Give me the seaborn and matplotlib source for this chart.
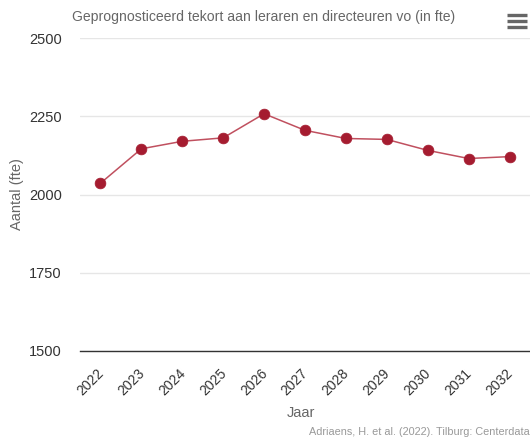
import numpy as np
import pandas as pd
import seaborn as sns
import matplotlib.pyplot as plt
import matplotlib.transforms as mtransforms
from matplotlib.lines import Line2D

# data
jaren = ['2022', '2023', '2024', '2025', '2026', '2027', '2028', '2029', '2030', '2031', '2032']
tekort = [2036, 2146, 2170, 2181, 2258, 2205, 2179, 2176, 2141, 2115, 2121]

df = pd.DataFrame({'Jaar': jaren, 'Aantal': tekort})

sns.set_style('white')
plt.rcParams['font.family'] = ['Liberation Sans', 'DejaVu Sans']

fig = plt.figure(figsize=(5.3, 4.38), dpi=100)
ax = fig.add_axes([80 / 530, 1 - 351 / 438, 450 / 530, 313 / 438])

rood = '#a51c30'
sns.lineplot(data=df, x='Jaar', y='Aantal', ax=ax, color='#c0505f', linewidth=1.1, sort=False)
sns.scatterplot(data=df, x='Jaar', y='Aantal', ax=ax, color=rood, s=60, edgecolor=rood,
                linewidth=0.5, zorder=3)

ax.set_xlim(-0.5, len(jaren) - 0.5)
ax.set_ylim(1500, 2500)
ax.set_yticks([1500, 1750, 2000, 2250, 2500])
ax.yaxis.grid(True, color='#e6e6e6', linewidth=1)
ax.set_axisbelow(True)
for s in ['top', 'right', 'left']:
    ax.spines[s].set_visible(False)
ax.spines['bottom'].set_color('#333333')
ax.spines['bottom'].set_linewidth(1)

ax.tick_params(axis='y', length=0, pad=13, labelsize=10.5, labelcolor='#333333')
ax.tick_params(axis='x', length=0, pad=11, labelsize=10, labelcolor='#333333')
shift = mtransforms.ScaledTranslation(-4 / 100, 0, fig.dpi_scale_trans)
for lab in ax.get_xticklabels():
    lab.set_rotation(45)
    lab.set_ha('right')
    lab.set_rotation_mode('anchor')
    lab.set_transform(lab.get_transform() + shift)

ax.set_xlabel('Jaar', fontsize=10.5, color='#666666')
ax.xaxis.set_label_coords(0.49, -(413 - 351) / 313, transform=ax.transAxes)
ax.xaxis.label.set_va('center')
ax.set_ylabel('Aantal (fte)', fontsize=10.5, color='#666666')
ax.yaxis.set_label_coords(-(80 - 17) / 450, 0.5)
ax.yaxis.label.set_va('center')

fig.text(264 / 530, 1 - 17 / 438, 'Geprognosticeerd tekort aan leraren en directeuren vo (in fte)',
         ha='center', va='center', fontsize=10.1, color='#666666')
fig.text(1.0, 1 - 432 / 438, 'Adriaens, H. et al. (2022). Tilburg: Centerdata',
         ha='right', va='center', fontsize=7.8, color='#999999')

# menu icon top right
for yy in [15, 21, 27]:
    fig.add_artist(Line2D([507 / 530, 527 / 530], [1 - yy / 438, 1 - yy / 438],
                          color='#666666', linewidth=2.4, solid_capstyle='butt'))

fig.savefig('out.png', dpi=100)
